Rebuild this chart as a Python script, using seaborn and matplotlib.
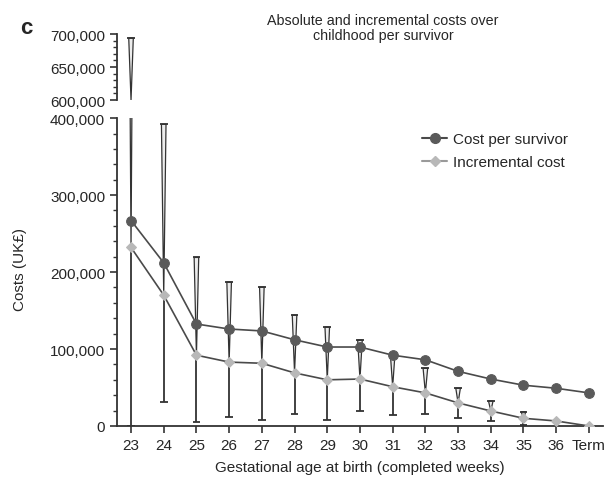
import numpy as np
import pandas as pd
import matplotlib
matplotlib.use("Agg")
import matplotlib.pyplot as plt
import matplotlib.ticker as mticker
from matplotlib.lines import Line2D
import seaborn as sns

# Values (UK£)
weeks = ['23', '24', '25', '26', '27', '28', '29', '30', '31', '32', '33', '34', '35', '36', 'Term']
cost_per_survivor = [267000, 212000, 132500, 126000, 123500, 112000, 102600, 102600,
                     92000, 86000, 71000, 61000, 53000, 49000, 43000]
incremental_cost = [232000, 170000, 92000, 83000, 81500, 69000, 60000, 61000,
                    51000, 43000, 30000, 19500, 10000, 6500, 0]
upper_ci = [694000, 392000, 219000, 187000, 180500, 144000, 128600, 111700,
            93000, 75000, 49000, 32500, 18500, np.nan, np.nan]
lower_ci = [0, 31000, 5000, 11500, 8000, 15600, 8000, 19500,
            14000, 15600, 10000, 6500, 1000, np.nan, np.nan]

df = pd.DataFrame({'week': weeks, 'cost': cost_per_survivor, 'incr': incremental_cost,
                   'upper': upper_ci, 'lower': lower_ci})
df['pos'] = np.arange(len(df))

sns.set_style("ticks")
plt.rcParams['font.family'] = ['Liberation Sans', 'DejaVu Sans']

dark = '#4a4a4a'
fig = plt.figure(figsize=(6.06, 4.81), dpi=100)
ax = fig.add_axes([0.193, 0.1123, 0.802, 0.640])
ax_top = fig.add_axes([0.193, 0.790, 0.802, 0.137], sharex=ax)


def draw_bars(a, floor):
    # wedge from the upper cap down to the incremental point, line + cap below
    half_w = 0.07
    cap = 0.12
    for _, r in df.iterrows():
        if np.isnan(r['upper']):
            continue
        apex = max(r['incr'], floor)
        a.fill([r['pos'] - half_w, r['pos'] + half_w, r['pos']],
               [r['upper'], r['upper'], apex],
               facecolor='#ececec', edgecolor='#333333', lw=0.9, zorder=2)
        a.hlines(r['upper'], r['pos'] - cap, r['pos'] + cap, color='#333333', lw=1.3, zorder=2)
        a.vlines(r['pos'], r['lower'], r['incr'], color='#333333', lw=1.3, zorder=2)
        a.hlines(r['lower'], r['pos'] - cap, r['pos'] + cap, color='#333333', lw=1.3, zorder=2)


draw_bars(ax, 0)
draw_bars(ax_top, 600000)

sns.lineplot(data=df, x='pos', y='cost', ax=ax, color=dark, lw=1.2, marker='o',
             markersize=7, markerfacecolor='#5a5a5a', markeredgecolor='#5a5a5a', zorder=3)
sns.lineplot(data=df, x='pos', y='incr', ax=ax, color=dark, lw=1.2, marker='D',
             markersize=5.5, markerfacecolor='#b8b8b8', markeredgecolor='#b8b8b8', zorder=3)

fmt = mticker.FuncFormatter(lambda v, p: f'{int(v):,}')

ax.set_xlim(-0.43, 14.43)
ax.set_ylim(0, 400000)
ax.set_yticks([0, 100000, 200000, 300000, 400000])
ax.yaxis.set_minor_locator(mticker.MultipleLocator(20000))
ax.yaxis.set_major_formatter(fmt)
ax.set_xticks(df['pos'])
ax.set_xticklabels(weeks)
ax.tick_params(axis='both', labelsize=11, width=1.2, length=5, color='#333333')
ax.tick_params(axis='y', which='minor', length=3, width=1.0, color='#333333')
ax.set_xlabel('Gestational age at birth (completed weeks)', fontsize=11, labelpad=6)
ax.set_ylabel('')
for s in ['top', 'right']:
    ax.spines[s].set_visible(False)
for s in ['left', 'bottom']:
    ax.spines[s].set_linewidth(1.3)
    ax.spines[s].set_color('#333333')

ax_top.set_ylim(600000, 700000)
ax_top.set_yticks([600000, 650000, 700000])
ax_top.yaxis.set_minor_locator(mticker.MultipleLocator(10000))
ax_top.yaxis.set_major_formatter(fmt)
ax_top.tick_params(axis='y', labelsize=11, width=1.2, length=5, color='#333333')
ax_top.tick_params(axis='y', which='minor', length=3, width=1.0, color='#333333')
ax_top.tick_params(axis='x', bottom=False, labelbottom=False)
ax_top.set_xlabel('')
ax_top.set_ylabel('')
for s in ['top', 'right', 'bottom']:
    ax_top.spines[s].set_visible(False)
ax_top.spines['left'].set_linewidth(1.3)
ax_top.spines['left'].set_color('#333333')

fig.text(0.033, 0.44, 'Costs (UK£)', rotation=90, fontsize=11, ha='center', va='center')
fig.text(0.632, 0.941, 'Absolute and incremental costs over\nchildhood per survivor',
         fontsize=10.3, ha='center', va='center', linespacing=1.1)
fig.text(0.043, 0.94, 'c', fontsize=16, fontweight='bold', ha='center', va='center')

handles = [Line2D([], [], color=dark, lw=1.5, marker='o', markersize=7,
                  markerfacecolor='#5a5a5a', markeredgecolor='#5a5a5a'),
           Line2D([], [], color='#9a9a9a', lw=1.5, marker='D', markersize=5.5,
                  markerfacecolor='#b8b8b8', markeredgecolor='#b8b8b8')]
ax.legend(handles, ['Cost per survivor', 'Incremental cost'], loc='upper left',
          bbox_to_anchor=(0.6, 1.0), frameon=False, fontsize=11, handlelength=1.6,
          handletextpad=0.4, labelspacing=0.6)

fig.savefig('out.png', dpi=100)
